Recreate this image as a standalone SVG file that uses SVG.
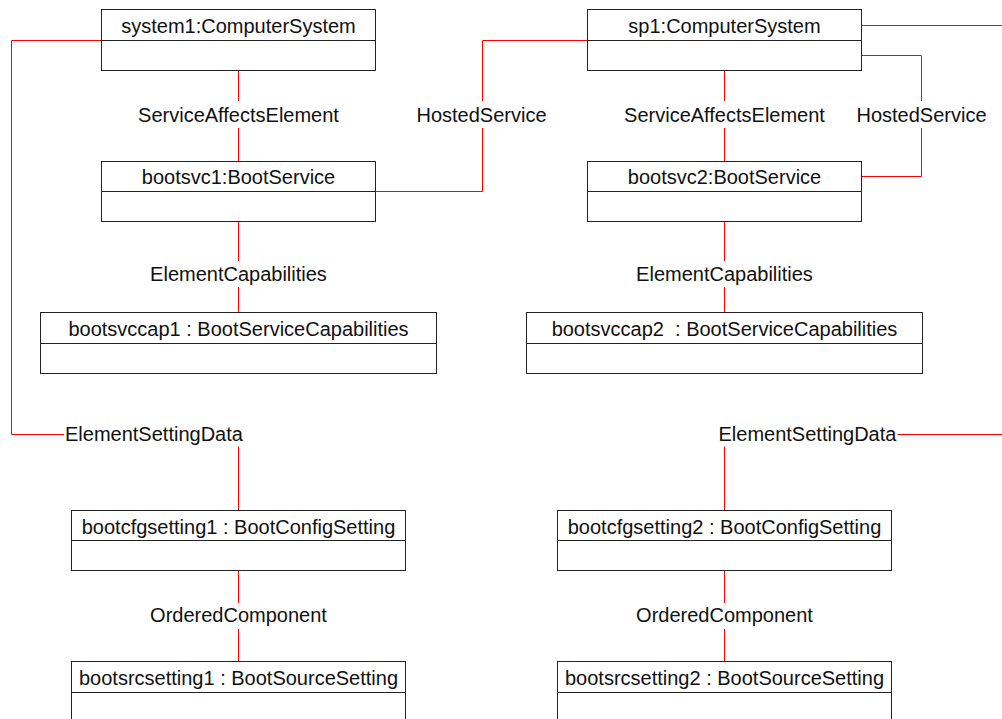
<svg xmlns="http://www.w3.org/2000/svg" width="1002" height="719" viewBox="0 0 1002 719">
<style>
.box{fill:#fff;stroke:#222;stroke-width:1}
.div{stroke:#222;stroke-width:1}
.t{font-family:"Liberation Sans",Arial,sans-serif;font-size:20px;fill:#111;text-anchor:middle;white-space:pre}
.c{fill:none;stroke:#ff0000;stroke-width:1}
</style>
<rect width="1002" height="719" fill="#fff"/>
<g id="connectors">
<path class="c" d="M238.5 70.5V101M238.5 128V161.5"/>
<path class="c" d="M724.5 70.5V101M724.5 128V161.5"/>
<path class="c" d="M375.5 191.5H482.5V128M482.5 101V40.5H587.5"/>
<path class="c" d="M861.5 55.5H921.5V101M921.5 128V176.5H861.5"/>
<path class="c" d="M238.5 221.5V261M238.5 287V312.5"/>
<path class="c" d="M724.5 221.5V261M724.5 287V312.5"/>
<path class="c" d="M101.5 40.5H11.5V434.5H64"/>
<path class="c" d="M238.5 446.5V510.5"/>
<path class="c" d="M861.5 25.5H1003"/>
<path class="c" d="M1003 434.5H897.5"/>
<path class="c" d="M724.5 446.5V510.5"/>
<path class="c" d="M238.5 570.5V603M238.5 629V661.5"/>
<path class="c" d="M724.5 570.5V603M724.5 629V661.5"/>
<text class="t" x="238.5" y="122">ServiceAffectsElement</text>
<text class="t" x="724.5" y="122">ServiceAffectsElement</text>
<text class="t" x="481.5" y="122">HostedService</text>
<text class="t" x="921.5" y="122">HostedService</text>
<text class="t" x="238.5" y="281">ElementCapabilities</text>
<text class="t" x="724.5" y="281">ElementCapabilities</text>
<text class="t" x="65" y="441" style="text-anchor:start">ElementSettingData</text>
<text class="t" x="718.5" y="441" style="text-anchor:start">ElementSettingData</text>
<text class="t" x="238.5" y="622">OrderedComponent</text>
<text class="t" x="724.5" y="622">OrderedComponent</text>
</g>
<g id="system1">
<rect class="box" x="101.5" y="9.5" width="274" height="61"/>
<line class="div" x1="101.5" y1="40.5" x2="375.5" y2="40.5"/>
<text class="t" x="238.5" y="33">system1:ComputerSystem</text>
</g>
<g id="sp1">
<rect class="box" x="587.5" y="9.5" width="274" height="61"/>
<line class="div" x1="587.5" y1="40.5" x2="861.5" y2="40.5"/>
<text class="t" x="724.5" y="33">sp1:ComputerSystem</text>
</g>
<g id="bootsvc1">
<rect class="box" x="101.5" y="161.5" width="274" height="60"/>
<line class="div" x1="101.5" y1="191.5" x2="375.5" y2="191.5"/>
<text class="t" x="238.5" y="184">bootsvc1:BootService</text>
</g>
<g id="bootsvc2">
<rect class="box" x="587.5" y="161.5" width="274" height="60"/>
<line class="div" x1="587.5" y1="191.5" x2="861.5" y2="191.5"/>
<text class="t" x="724.5" y="184">bootsvc2:BootService</text>
</g>
<g id="bootsvccap1">
<rect class="box" x="40.5" y="312.5" width="396" height="61"/>
<line class="div" x1="40.5" y1="343.5" x2="436.5" y2="343.5"/>
<text class="t" x="238.5" y="336">bootsvccap1 : BootServiceCapabilities</text>
</g>
<g id="bootsvccap2">
<rect class="box" x="526.5" y="312.5" width="396" height="61"/>
<line class="div" x1="526.5" y1="343.5" x2="922.5" y2="343.5"/>
<text class="t" x="724.5" y="336">bootsvccap2  : BootServiceCapabilities</text>
</g>
<g id="bootcfgsetting1">
<rect class="box" x="71.5" y="510.5" width="334" height="60"/>
<line class="div" x1="71.5" y1="540.5" x2="405.5" y2="540.5"/>
<text class="t" x="238.5" y="533.5">bootcfgsetting1 : BootConfigSetting</text>
</g>
<g id="bootcfgsetting2">
<rect class="box" x="557.5" y="510.5" width="334" height="60"/>
<line class="div" x1="557.5" y1="540.5" x2="891.5" y2="540.5"/>
<text class="t" x="724.5" y="533.5">bootcfgsetting2 : BootConfigSetting</text>
</g>
<g id="bootsrcsetting1">
<rect class="box" x="71.5" y="661.5" width="334" height="61"/>
<line class="div" x1="71.5" y1="692.5" x2="405.5" y2="692.5"/>
<text class="t" x="238.5" y="684.5">bootsrcsetting1 : BootSourceSetting</text>
</g>
<g id="bootsrcsetting2">
<rect class="box" x="557.5" y="661.5" width="334" height="61"/>
<line class="div" x1="557.5" y1="692.5" x2="891.5" y2="692.5"/>
<text class="t" x="724.5" y="684.5">bootsrcsetting2 : BootSourceSetting</text>
</g>
</svg>
